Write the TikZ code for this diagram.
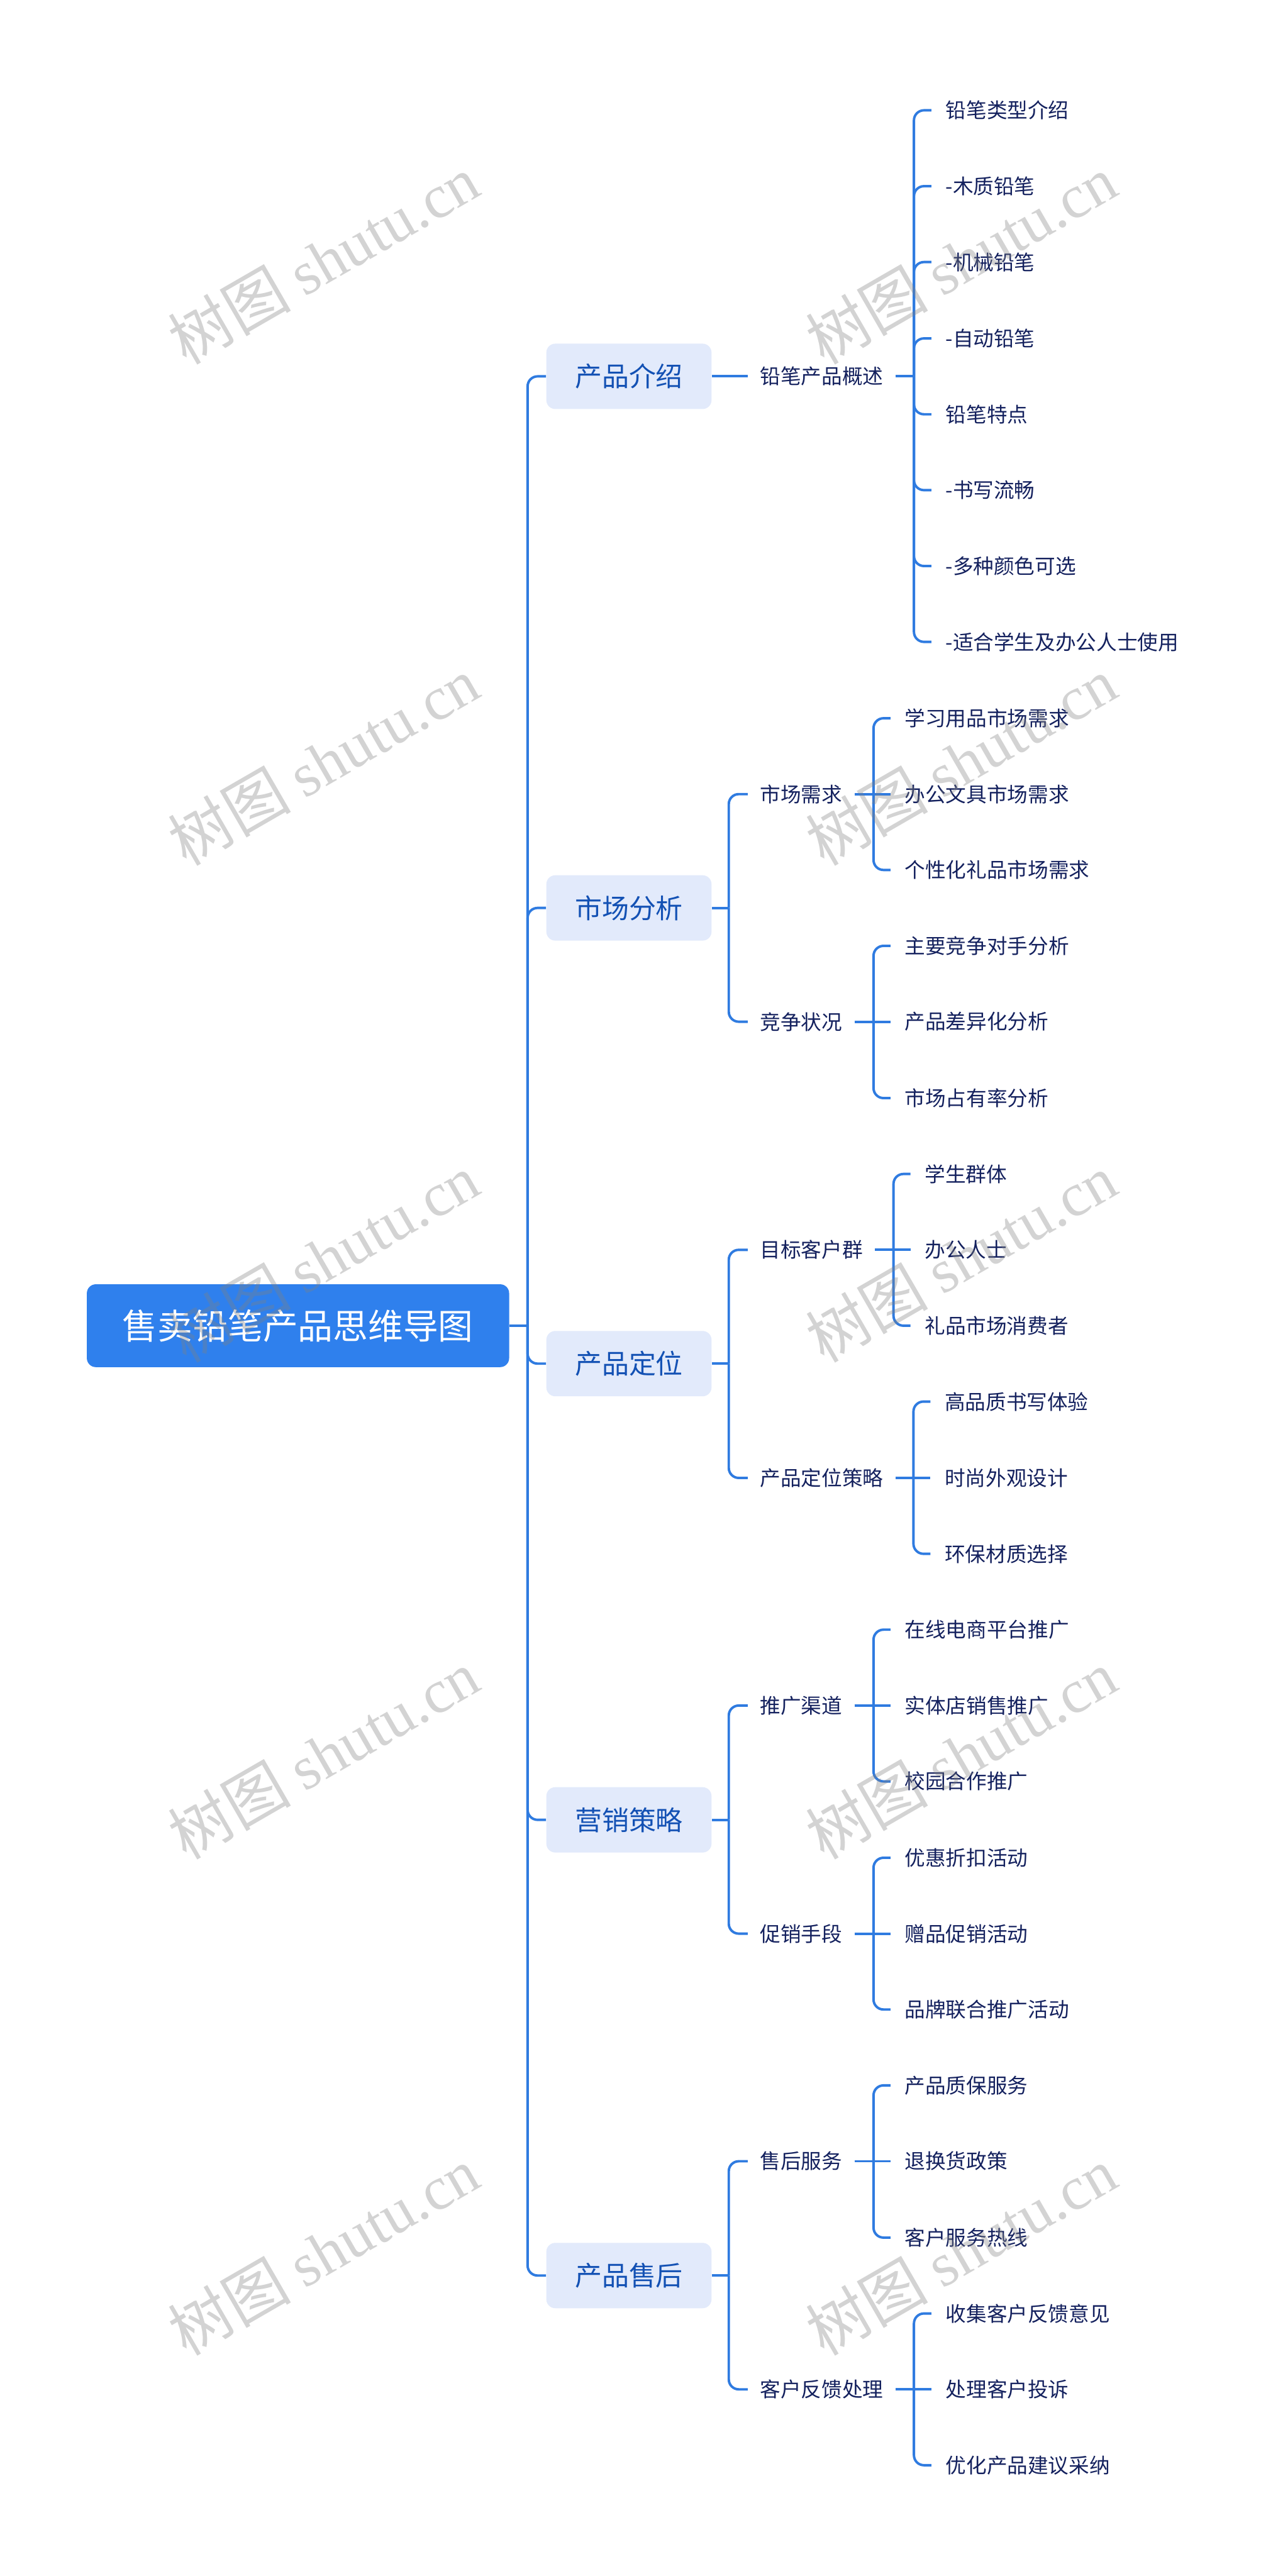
\documentclass[tikz,border=0pt]{standalone}
\usepackage{xcolor}
\usepackage{fontspec}
\setmainfont{Noto Sans CJK SC}
\newfontfamily\wmfont{Liberation Serif}
\usepackage{tikz}
\usetikzlibrary{positioning}

\definecolor{rootblue}{HTML}{2F80ED}
\definecolor{topicfill}{HTML}{E2EAFB}
\definecolor{topictext}{HTML}{1351B4}
\definecolor{navytext}{HTML}{14215E}
\definecolor{lineblue}{HTML}{2F7BE0}

\begin{document}
\begin{tikzpicture}[
    rootbox/.style={fill=rootblue, text=white, rounded corners=0.18cm,
        minimum width=8.46cm, minimum height=1.66cm, font=\fontsize{20}{24}\selectfont},
    topicbox/.style={fill=topicfill, text=topictext, rounded corners=0.18cm,
        minimum width=3.31cm, minimum height=1.31cm, font=\fontsize{15.4}{18}\selectfont},
    subtext/.style={anchor=west, text=navytext, inner xsep=0.24cm, font=\fontsize{11.7}{14}\selectfont},
    leaftext/.style={anchor=west, text=navytext, inner xsep=0.28cm, font=\fontsize{11.7}{14}\selectfont},
    conn/.style={draw=lineblue, line width=1.4pt, rounded corners=0.2cm},
    wmark/.style={text=black!50, opacity=0.35, rotate=30, font=\fontsize{35}{40}\selectfont}
]
\useasboundingbox (0,0) rectangle (25.60,-51.61);

\node[rootbox] (root) at (5.97,-26.56) {售卖铅笔产品思维导图};

\node[topicbox] (topic_1) at (12.60,-7.54) {产品介绍};
\node[topicbox] (topic_2) at (12.60,-18.19) {市场分析};
\node[topicbox] (topic_3) at (12.60,-27.32) {产品定位};
\node[topicbox] (topic_4) at (12.60,-36.46) {营销策略};
\node[topicbox] (topic_5) at (12.60,-45.59) {产品售后};

\node[subtext] (sub_1) at (14.98,-7.54) {铅笔产品概述};
\node[subtext] (sub_2) at (14.98,-15.91) {市场需求};
\node[subtext] (sub_3) at (14.98,-20.47) {竞争状况};
\node[subtext] (sub_4) at (14.98,-25.04) {目标客户群};
\node[subtext] (sub_5) at (14.98,-29.61) {产品定位策略};
\node[subtext] (sub_6) at (14.98,-34.17) {推广渠道};
\node[subtext] (sub_7) at (14.98,-38.74) {促销手段};
\node[subtext] (sub_8) at (14.98,-43.30) {售后服务};
\node[subtext] (sub_9) at (14.98,-47.87) {客户反馈处理};

\node[leaftext] (leaf_0) at (18.66,-2.21) {铅笔类型介绍};
\node[leaftext] (leaf_1) at (18.66,-3.73) {-木质铅笔};
\node[leaftext] (leaf_2) at (18.66,-5.25) {-机械铅笔};
\node[leaftext] (leaf_3) at (18.66,-6.78) {-自动铅笔};
\node[leaftext] (leaf_4) at (18.66,-8.30) {铅笔特点};
\node[leaftext] (leaf_5) at (18.66,-9.82) {-书写流畅};
\node[leaftext] (leaf_6) at (18.66,-11.34) {-多种颜色可选};
\node[leaftext] (leaf_7) at (18.66,-12.86) {-适合学生及办公人士使用};

\node[leaftext] (leaf_8) at (17.84,-14.39) {学习用品市场需求};
\node[leaftext] (leaf_9) at (17.84,-15.91) {办公文具市场需求};
\node[leaftext] (leaf_10) at (17.84,-17.43) {个性化礼品市场需求};
\node[leaftext] (leaf_11) at (17.84,-18.95) {主要竞争对手分析};
\node[leaftext] (leaf_12) at (17.84,-20.47) {产品差异化分析};
\node[leaftext] (leaf_13) at (17.84,-22.00) {市场占有率分析};

\node[leaftext] (leaf_14) at (18.24,-23.52) {学生群体};
\node[leaftext] (leaf_15) at (18.24,-25.04) {办公人士};
\node[leaftext] (leaf_16) at (18.24,-26.56) {礼品市场消费者};
\node[leaftext] (leaf_17) at (18.64,-28.08) {高品质书写体验};
\node[leaftext] (leaf_18) at (18.64,-29.61) {时尚外观设计};
\node[leaftext] (leaf_19) at (18.64,-31.13) {环保材质选择};

\node[leaftext] (leaf_20) at (17.84,-32.65) {在线电商平台推广};
\node[leaftext] (leaf_21) at (17.84,-34.17) {实体店销售推广};
\node[leaftext] (leaf_22) at (17.84,-35.69) {校园合作推广};
\node[leaftext] (leaf_23) at (17.84,-37.22) {优惠折扣活动};
\node[leaftext] (leaf_24) at (17.84,-38.74) {赠品促销活动};
\node[leaftext] (leaf_25) at (17.84,-40.26) {品牌联合推广活动};

\node[leaftext] (leaf_26) at (17.84,-41.78) {产品质保服务};
\node[leaftext] (leaf_27) at (17.84,-43.30) {退换货政策};
\node[leaftext] (leaf_28) at (17.84,-44.83) {客户服务热线};
\node[leaftext] (leaf_29) at (18.66,-46.35) {收集客户反馈意见};
\node[leaftext] (leaf_30) at (18.66,-47.87) {处理客户投诉};
\node[leaftext] (leaf_31) at (18.66,-49.39) {优化产品建议采纳};

\coordinate (trunk_j) at (10.57,-26.56);
\coordinate (topic_2_j) at (14.60,-18.19);
\coordinate (topic_3_j) at (14.60,-27.32);
\coordinate (topic_4_j) at (14.60,-36.46);
\coordinate (topic_5_j) at (14.60,-45.59);
\coordinate (sub_1_j) at (18.31,-7.54);
\coordinate (sub_2_j) at (17.50,-15.91);
\coordinate (sub_3_j) at (17.50,-20.47);
\coordinate (sub_4_j) at (17.90,-25.04);
\coordinate (sub_5_j) at (18.30,-29.61);
\coordinate (sub_6_j) at (17.50,-34.17);
\coordinate (sub_7_j) at (17.50,-38.74);
\coordinate (sub_8_j) at (17.50,-43.30);
\coordinate (sub_9_j) at (18.31,-47.87);

\draw[conn] (root) -- (trunk_j);
\draw[conn] (trunk_j) |- (topic_1.west);
\draw[conn] (trunk_j) |- (topic_2.west);
\draw[conn] (trunk_j) |- (topic_3.west);
\draw[conn] (trunk_j) |- (topic_4.west);
\draw[conn] (trunk_j) |- (topic_5.west);

\draw[conn] (topic_1) -- (sub_1);
\draw[conn] (topic_2) -- (topic_2_j);
\draw[conn] (topic_2_j) |- (sub_2.west);
\draw[conn] (topic_2_j) |- (sub_3.west);
\draw[conn] (topic_3) -- (topic_3_j);
\draw[conn] (topic_3_j) |- (sub_4.west);
\draw[conn] (topic_3_j) |- (sub_5.west);
\draw[conn] (topic_4) -- (topic_4_j);
\draw[conn] (topic_4_j) |- (sub_6.west);
\draw[conn] (topic_4_j) |- (sub_7.west);
\draw[conn] (topic_5) -- (topic_5_j);
\draw[conn] (topic_5_j) |- (sub_8.west);
\draw[conn] (topic_5_j) |- (sub_9.west);

\draw[conn] (sub_1) -- (sub_1_j);
\draw[conn] (sub_1_j) |- (leaf_0.west);
\draw[conn] (sub_1_j) |- (leaf_1.west);
\draw[conn] (sub_1_j) |- (leaf_2.west);
\draw[conn] (sub_1_j) |- (leaf_3.west);
\draw[conn] (sub_1_j) |- (leaf_4.west);
\draw[conn] (sub_1_j) |- (leaf_5.west);
\draw[conn] (sub_1_j) |- (leaf_6.west);
\draw[conn] (sub_1_j) |- (leaf_7.west);

\draw[conn] (sub_2) -- (sub_2_j);
\draw[conn] (sub_2_j) |- (leaf_8.west);
\draw[conn] (sub_2_j) -- (leaf_9.west);
\draw[conn] (sub_2_j) |- (leaf_10.west);
\draw[conn] (sub_3) -- (sub_3_j);
\draw[conn] (sub_3_j) |- (leaf_11.west);
\draw[conn] (sub_3_j) -- (leaf_12.west);
\draw[conn] (sub_3_j) |- (leaf_13.west);

\draw[conn] (sub_4) -- (sub_4_j);
\draw[conn] (sub_4_j) |- (leaf_14.west);
\draw[conn] (sub_4_j) -- (leaf_15.west);
\draw[conn] (sub_4_j) |- (leaf_16.west);
\draw[conn] (sub_5) -- (sub_5_j);
\draw[conn] (sub_5_j) |- (leaf_17.west);
\draw[conn] (sub_5_j) -- (leaf_18.west);
\draw[conn] (sub_5_j) |- (leaf_19.west);

\draw[conn] (sub_6) -- (sub_6_j);
\draw[conn] (sub_6_j) |- (leaf_20.west);
\draw[conn] (sub_6_j) -- (leaf_21.west);
\draw[conn] (sub_6_j) |- (leaf_22.west);
\draw[conn] (sub_7) -- (sub_7_j);
\draw[conn] (sub_7_j) |- (leaf_23.west);
\draw[conn] (sub_7_j) -- (leaf_24.west);
\draw[conn] (sub_7_j) |- (leaf_25.west);

\draw[conn] (sub_8) -- (sub_8_j);
\draw[conn] (sub_8_j) |- (leaf_26.west);
\draw[conn] (sub_8_j) -- (leaf_27.west);
\draw[conn] (sub_8_j) |- (leaf_28.west);
\draw[conn] (sub_9) -- (sub_9_j);
\draw[conn] (sub_9_j) |- (leaf_29.west);
\draw[conn] (sub_9_j) -- (leaf_30.west);
\draw[conn] (sub_9_j) |- (leaf_31.west);

\node[wmark] (wm_1) at (6.48,-5.20) {树图 {\wmfont shutu.cn}};
\node[wmark] (wm_2) at (19.25,-5.20) {树图 {\wmfont shutu.cn}};
\node[wmark] (wm_3) at (6.48,-15.25) {树图 {\wmfont shutu.cn}};
\node[wmark] (wm_4) at (19.25,-15.25) {树图 {\wmfont shutu.cn}};
\node[wmark] (wm_5) at (6.48,-25.20) {树图 {\wmfont shutu.cn}};
\node[wmark] (wm_6) at (19.25,-25.20) {树图 {\wmfont shutu.cn}};
\node[wmark] (wm_7) at (6.48,-35.15) {树图 {\wmfont shutu.cn}};
\node[wmark] (wm_8) at (19.25,-35.15) {树图 {\wmfont shutu.cn}};
\node[wmark] (wm_9) at (6.48,-45.10) {树图 {\wmfont shutu.cn}};
\node[wmark] (wm_10) at (19.25,-45.10) {树图 {\wmfont shutu.cn}};

\end{tikzpicture}
\end{document}
